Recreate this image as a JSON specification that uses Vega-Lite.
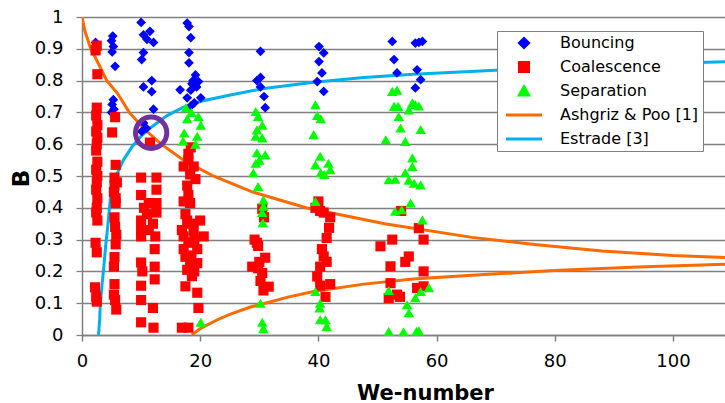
{
"$schema": "https://vega.github.io/schema/vega-lite/v6.json",
"width": 643, "height": 318,
"autosize": {"type": "none"},
"padding": {"left": 82, "top": 17, "right": 0, "bottom": 68},
"background": "white",
"config": {"view": {"stroke": null}, "font": "DejaVu Sans"},
"datasets": {
"points": [
{"series":"Bouncing","We":2.3,"B":0.92},{"series":"Bouncing","We":5.2,"B":0.94},{"series":"Bouncing","We":5.0,"B":0.925},{"series":"Bouncing","We":5.3,"B":0.907},{"series":"Bouncing","We":5.1,"B":0.89},{"series":"Bouncing","We":5.6,"B":0.845},{"series":"Bouncing","We":5.3,"B":0.74},{"series":"Bouncing","We":5.1,"B":0.725},{"series":"Bouncing","We":5.4,"B":0.71},{"series":"Bouncing","We":5.0,"B":0.70},
{"series":"Bouncing","We":10.0,"B":0.983},{"series":"Bouncing","We":10.4,"B":0.944},{"series":"Bouncing","We":11.5,"B":0.955},{"series":"Bouncing","We":12.1,"B":0.92},{"series":"Bouncing","We":11.0,"B":0.93},{"series":"Bouncing","We":10.4,"B":0.888},{"series":"Bouncing","We":10.1,"B":0.866},{"series":"Bouncing","We":11.8,"B":0.80},{"series":"Bouncing","We":10.4,"B":0.78},{"series":"Bouncing","We":11.8,"B":0.765},{"series":"Bouncing","We":12.1,"B":0.71},{"series":"Bouncing","We":10.4,"B":0.667},{"series":"Bouncing","We":10.9,"B":0.65},{"series":"Bouncing","We":10.1,"B":0.64},
{"series":"Bouncing","We":17.8,"B":0.981},{"series":"Bouncing","We":18.1,"B":0.97},{"series":"Bouncing","We":18.4,"B":0.935},{"series":"Bouncing","We":18.1,"B":0.888},{"series":"Bouncing","We":18.1,"B":0.856},{"series":"Bouncing","We":19.2,"B":0.818},{"series":"Bouncing","We":18.8,"B":0.80},{"series":"Bouncing","We":19.7,"B":0.797},{"series":"Bouncing","We":16.6,"B":0.771},{"series":"Bouncing","We":18.4,"B":0.77},{"series":"Bouncing","We":17.8,"B":0.746},{"series":"Bouncing","We":20.1,"B":0.746},{"series":"Bouncing","We":19.0,"B":0.73},{"series":"Bouncing","We":18.4,"B":0.72},{"series":"Bouncing","We":18.6,"B":0.79},{"series":"Bouncing","We":19.4,"B":0.78},
{"series":"Bouncing","We":30.2,"B":0.892},{"series":"Bouncing","We":30.2,"B":0.81},{"series":"Bouncing","We":29.6,"B":0.80},{"series":"Bouncing","We":30.2,"B":0.78},{"series":"Bouncing","We":30.8,"B":0.75},{"series":"Bouncing","We":31.0,"B":0.715},
{"series":"Bouncing","We":40.1,"B":0.907},{"series":"Bouncing","We":40.9,"B":0.887},{"series":"Bouncing","We":40.1,"B":0.86},{"series":"Bouncing","We":40.6,"B":0.824},{"series":"Bouncing","We":39.8,"B":0.797},{"series":"Bouncing","We":40.9,"B":0.766},
{"series":"Bouncing","We":52.5,"B":0.923},{"series":"Bouncing","We":56.4,"B":0.918},{"series":"Bouncing","We":57.6,"B":0.923},{"series":"Bouncing","We":57.0,"B":0.92},{"series":"Bouncing","We":52.8,"B":0.866},{"series":"Bouncing","We":53.3,"B":0.824},{"series":"Bouncing","We":56.7,"B":0.834},{"series":"Bouncing","We":57.3,"B":0.803},{"series":"Bouncing","We":56.4,"B":0.777},
{"series":"Coalescence","We":2.5,"B":0.91},{"series":"Coalescence","We":2.3,"B":0.895},{"series":"Coalescence","We":2.6,"B":0.82},{"series":"Coalescence","We":2.5,"B":0.715},{"series":"Coalescence","We":2.4,"B":0.69},{"series":"Coalescence","We":2.6,"B":0.66},{"series":"Coalescence","We":2.4,"B":0.64},{"series":"Coalescence","We":2.6,"B":0.62},{"series":"Coalescence","We":2.5,"B":0.60},{"series":"Coalescence","We":2.4,"B":0.58},{"series":"Coalescence","We":2.6,"B":0.545},{"series":"Coalescence","We":2.4,"B":0.52},{"series":"Coalescence","We":2.6,"B":0.50},{"series":"Coalescence","We":2.5,"B":0.48},{"series":"Coalescence","We":2.4,"B":0.457},{"series":"Coalescence","We":2.6,"B":0.43},{"series":"Coalescence","We":2.5,"B":0.40},{"series":"Coalescence","We":2.4,"B":0.385},{"series":"Coalescence","We":2.6,"B":0.36},{"series":"Coalescence","We":2.3,"B":0.29},{"series":"Coalescence","We":2.5,"B":0.26},{"series":"Coalescence","We":2.2,"B":0.15},{"series":"Coalescence","We":2.4,"B":0.12},{"series":"Coalescence","We":2.5,"B":0.105},
{"series":"Coalescence","We":5.6,"B":0.685},{"series":"Coalescence","We":5.1,"B":0.637},{"series":"Coalescence","We":5.7,"B":0.535},{"series":"Coalescence","We":5.5,"B":0.495},{"series":"Coalescence","We":5.9,"B":0.48},{"series":"Coalescence","We":5.4,"B":0.45},{"series":"Coalescence","We":5.7,"B":0.43},{"series":"Coalescence","We":5.7,"B":0.415},{"series":"Coalescence","We":5.5,"B":0.37},{"series":"Coalescence","We":5.6,"B":0.34},{"series":"Coalescence","We":5.8,"B":0.315},{"series":"Coalescence","We":5.7,"B":0.285},{"series":"Coalescence","We":5.5,"B":0.245},{"series":"Coalescence","We":5.4,"B":0.215},{"series":"Coalescence","We":5.5,"B":0.16},{"series":"Coalescence","We":5.4,"B":0.127},{"series":"Coalescence","We":5.6,"B":0.11},{"series":"Coalescence","We":5.8,"B":0.08},{"series":"Coalescence","We":5.5,"B":0.47},
{"series":"Coalescence","We":11.5,"B":0.605},{"series":"Coalescence","We":10.0,"B":0.495},{"series":"Coalescence","We":12.6,"B":0.495},{"series":"Coalescence","We":12.6,"B":0.457},{"series":"Coalescence","We":10.0,"B":0.44},{"series":"Coalescence","We":11.3,"B":0.415},{"series":"Coalescence","We":12.6,"B":0.415},{"series":"Coalescence","We":12.6,"B":0.385},{"series":"Coalescence","We":10.5,"B":0.40},{"series":"Coalescence","We":11.0,"B":0.38},{"series":"Coalescence","We":10.0,"B":0.36},{"series":"Coalescence","We":12.0,"B":0.35},{"series":"Coalescence","We":10.0,"B":0.33},{"series":"Coalescence","We":11.3,"B":0.33},{"series":"Coalescence","We":10.0,"B":0.31},{"series":"Coalescence","We":12.4,"B":0.31},{"series":"Coalescence","We":12.3,"B":0.27},{"series":"Coalescence","We":10.0,"B":0.228},{"series":"Coalescence","We":12.3,"B":0.215},{"series":"Coalescence","We":10.2,"B":0.20},{"series":"Coalescence","We":12.3,"B":0.175},{"series":"Coalescence","We":10.0,"B":0.155},{"series":"Coalescence","We":10.0,"B":0.11},{"series":"Coalescence","We":12.0,"B":0.085},{"series":"Coalescence","We":10.0,"B":0.04},{"series":"Coalescence","We":12.1,"B":0.023},
{"series":"Coalescence","We":18.4,"B":0.59},{"series":"Coalescence","We":18.0,"B":0.57},{"series":"Coalescence","We":18.0,"B":0.55},{"series":"Coalescence","We":17.2,"B":0.53},{"series":"Coalescence","We":18.9,"B":0.53},{"series":"Coalescence","We":18.3,"B":0.505},{"series":"Coalescence","We":19.2,"B":0.49},{"series":"Coalescence","We":17.8,"B":0.47},{"series":"Coalescence","We":18.0,"B":0.44},{"series":"Coalescence","We":17.2,"B":0.42},{"series":"Coalescence","We":18.3,"B":0.415},{"series":"Coalescence","We":17.5,"B":0.38},{"series":"Coalescence","We":17.8,"B":0.36},{"series":"Coalescence","We":20.0,"B":0.36},{"series":"Coalescence","We":18.5,"B":0.35},{"series":"Coalescence","We":16.9,"B":0.33},{"series":"Coalescence","We":18.9,"B":0.33},{"series":"Coalescence","We":20.6,"B":0.31},{"series":"Coalescence","We":17.2,"B":0.31},{"series":"Coalescence","We":19.0,"B":0.30},{"series":"Coalescence","We":18.0,"B":0.29},{"series":"Coalescence","We":17.2,"B":0.27},{"series":"Coalescence","We":19.5,"B":0.27},{"series":"Coalescence","We":18.5,"B":0.25},{"series":"Coalescence","We":17.5,"B":0.246},{"series":"Coalescence","We":18.3,"B":0.226},{"series":"Coalescence","We":19.5,"B":0.226},{"series":"Coalescence","We":17.8,"B":0.205},{"series":"Coalescence","We":19.0,"B":0.20},{"series":"Coalescence","We":18.6,"B":0.185},{"series":"Coalescence","We":17.5,"B":0.153},{"series":"Coalescence","We":19.5,"B":0.133},{"series":"Coalescence","We":19.7,"B":0.085},{"series":"Coalescence","We":16.9,"B":0.023},{"series":"Coalescence","We":18.0,"B":0.023},
{"series":"Coalescence","We":30.8,"B":0.37},{"series":"Coalescence","We":30.5,"B":0.397},{"series":"Coalescence","We":29.6,"B":0.29},{"series":"Coalescence","We":29.8,"B":0.28},{"series":"Coalescence","We":29.2,"B":0.30},{"series":"Coalescence","We":31.0,"B":0.243},{"series":"Coalescence","We":30.0,"B":0.23},{"series":"Coalescence","We":28.8,"B":0.215},{"series":"Coalescence","We":29.8,"B":0.21},{"series":"Coalescence","We":30.5,"B":0.195},{"series":"Coalescence","We":30.2,"B":0.17},{"series":"Coalescence","We":31.6,"B":0.152},{"series":"Coalescence","We":30.7,"B":0.14},
{"series":"Coalescence","We":40.0,"B":0.42},{"series":"Coalescence","We":39.5,"B":0.40},{"series":"Coalescence","We":40.3,"B":0.39},{"series":"Coalescence","We":40.9,"B":0.385},{"series":"Coalescence","We":42.0,"B":0.37},{"series":"Coalescence","We":41.8,"B":0.337},{"series":"Coalescence","We":41.4,"B":0.305},{"series":"Coalescence","We":40.6,"B":0.27},{"series":"Coalescence","We":40.9,"B":0.247},{"series":"Coalescence","We":41.4,"B":0.23},{"series":"Coalescence","We":40.3,"B":0.215},{"series":"Coalescence","We":39.8,"B":0.184},{"series":"Coalescence","We":42.0,"B":0.16},{"series":"Coalescence","We":40.3,"B":0.155},{"series":"Coalescence","We":41.2,"B":0.12},
{"series":"Coalescence","We":57.0,"B":0.336},{"series":"Coalescence","We":50.5,"B":0.279},{"series":"Coalescence","We":52.5,"B":0.30},{"series":"Coalescence","We":57.8,"B":0.30},{"series":"Coalescence","We":55.3,"B":0.247},{"series":"Coalescence","We":54.7,"B":0.23},{"series":"Coalescence","We":52.2,"B":0.216},{"series":"Coalescence","We":57.8,"B":0.20},{"series":"Coalescence","We":52.2,"B":0.163},{"series":"Coalescence","We":56.7,"B":0.148},{"series":"Coalescence","We":57.8,"B":0.153},{"series":"Coalescence","We":51.9,"B":0.116},{"series":"Coalescence","We":53.3,"B":0.127},{"series":"Coalescence","We":53.8,"B":0.12},{"series":"Coalescence","We":54.0,"B":0.39},
{"series":"Separation","We":17.6,"B":0.715},{"series":"Separation","We":18.5,"B":0.70},{"series":"Separation","We":19.7,"B":0.687},{"series":"Separation","We":17.8,"B":0.68},{"series":"Separation","We":20.1,"B":0.66},{"series":"Separation","We":17.3,"B":0.635},{"series":"Separation","We":19.5,"B":0.625},{"series":"Separation","We":17.1,"B":0.61},{"series":"Separation","We":19.2,"B":0.60},{"series":"Separation","We":20.1,"B":0.04},
{"series":"Separation","We":29.4,"B":0.703},{"series":"Separation","We":29.8,"B":0.687},{"series":"Separation","We":30.5,"B":0.66},{"series":"Separation","We":29.6,"B":0.645},{"series":"Separation","We":30.5,"B":0.62},{"series":"Separation","We":29.4,"B":0.625},{"series":"Separation","We":29.6,"B":0.573},{"series":"Separation","We":31.0,"B":0.567},{"series":"Separation","We":30.0,"B":0.55},{"series":"Separation","We":29.4,"B":0.54},{"series":"Separation","We":29.0,"B":0.51},{"series":"Separation","We":29.8,"B":0.467},{"series":"Separation","We":30.7,"B":0.425},{"series":"Separation","We":30.7,"B":0.405},{"series":"Separation","We":30.5,"B":0.385},{"series":"Separation","We":30.6,"B":0.353},{"series":"Separation","We":30.2,"B":0.10},{"series":"Separation","We":30.5,"B":0.04},{"series":"Separation","We":30.7,"B":0.02},
{"series":"Separation","We":39.5,"B":0.724},{"series":"Separation","We":39.8,"B":0.69},{"series":"Separation","We":40.4,"B":0.68},{"series":"Separation","We":39.2,"B":0.63},{"series":"Separation","We":40.3,"B":0.562},{"series":"Separation","We":39.5,"B":0.535},{"series":"Separation","We":41.7,"B":0.54},{"series":"Separation","We":40.4,"B":0.51},{"series":"Separation","We":42.0,"B":0.52},{"series":"Separation","We":41.0,"B":0.505},{"series":"Separation","We":39.5,"B":0.42},{"series":"Separation","We":39.5,"B":0.137},{"series":"Separation","We":40.3,"B":0.10},{"series":"Separation","We":40.2,"B":0.085},{"series":"Separation","We":40.3,"B":0.048},{"series":"Separation","We":41.2,"B":0.048},{"series":"Separation","We":41.4,"B":0.027},
{"series":"Separation","We":52.5,"B":0.766},{"series":"Separation","We":53.3,"B":0.77},{"series":"Separation","We":52.8,"B":0.719},{"series":"Separation","We":53.5,"B":0.719},{"series":"Separation","We":53.6,"B":0.687},{"series":"Separation","We":55.3,"B":0.708},{"series":"Separation","We":55.9,"B":0.73},{"series":"Separation","We":56.4,"B":0.725},{"series":"Separation","We":57.0,"B":0.72},{"series":"Separation","We":53.9,"B":0.651},{"series":"Separation","We":57.3,"B":0.646},{"series":"Separation","We":51.4,"B":0.614},{"series":"Separation","We":54.7,"B":0.609},{"series":"Separation","We":55.9,"B":0.557},{"series":"Separation","We":55.9,"B":0.53},{"series":"Separation","We":51.9,"B":0.488},{"series":"Separation","We":53.0,"B":0.49},{"series":"Separation","We":54.7,"B":0.51},{"series":"Separation","We":55.3,"B":0.487},{"series":"Separation","We":56.2,"B":0.477},{"series":"Separation","We":57.3,"B":0.472},{"series":"Separation","We":55.6,"B":0.415},{"series":"Separation","We":53.0,"B":0.389},{"series":"Separation","We":54.1,"B":0.394},{"series":"Separation","We":57.6,"B":0.362},{"series":"Separation","We":51.9,"B":0.14},{"series":"Separation","We":55.0,"B":0.095},{"series":"Separation","We":55.3,"B":0.07},{"series":"Separation","We":56.4,"B":0.117},{"series":"Separation","We":57.3,"B":0.137},{"series":"Separation","We":58.7,"B":0.149},{"series":"Separation","We":51.9,"B":0.011},{"series":"Separation","We":54.4,"B":0.01},{"series":"Separation","We":56.6,"B":0.012},{"series":"Separation","We":57.0,"B":0.013}
],
"curves": [
{"series":"Ashgriz & Poo [1]","branch":"upper","We":0,"B":1.0},{"series":"Ashgriz & Poo [1]","branch":"upper","We":0.5,"B":0.955},{"series":"Ashgriz & Poo [1]","branch":"upper","We":1.5,"B":0.9},{"series":"Ashgriz & Poo [1]","branch":"upper","We":2.6,"B":0.86},{"series":"Ashgriz & Poo [1]","branch":"upper","We":4.2,"B":0.8},{"series":"Ashgriz & Poo [1]","branch":"upper","We":6.0,"B":0.76},{"series":"Ashgriz & Poo [1]","branch":"upper","We":8.0,"B":0.7},{"series":"Ashgriz & Poo [1]","branch":"upper","We":10.4,"B":0.65},{"series":"Ashgriz & Poo [1]","branch":"upper","We":13.4,"B":0.6},{"series":"Ashgriz & Poo [1]","branch":"upper","We":17.2,"B":0.55},{"series":"Ashgriz & Poo [1]","branch":"upper","We":22.2,"B":0.5},{"series":"Ashgriz & Poo [1]","branch":"upper","We":28.8,"B":0.45},{"series":"Ashgriz & Poo [1]","branch":"upper","We":37.9,"B":0.4},{"series":"Ashgriz & Poo [1]","branch":"upper","We":51.2,"B":0.35},{"series":"Ashgriz & Poo [1]","branch":"upper","We":66,"B":0.307},{"series":"Ashgriz & Poo [1]","branch":"upper","We":77,"B":0.284},{"series":"Ashgriz & Poo [1]","branch":"upper","We":88,"B":0.264},{"series":"Ashgriz & Poo [1]","branch":"upper","We":100,"B":0.25},{"series":"Ashgriz & Poo [1]","branch":"upper","We":112,"B":0.241},
{"series":"Ashgriz & Poo [1]","branch":"lower","We":18.6,"B":0},{"series":"Ashgriz & Poo [1]","branch":"lower","We":20,"B":0.02},{"series":"Ashgriz & Poo [1]","branch":"lower","We":22.9,"B":0.048},{"series":"Ashgriz & Poo [1]","branch":"lower","We":25,"B":0.065},{"series":"Ashgriz & Poo [1]","branch":"lower","We":28.5,"B":0.088},{"series":"Ashgriz & Poo [1]","branch":"lower","We":31,"B":0.10},{"series":"Ashgriz & Poo [1]","branch":"lower","We":35,"B":0.12},{"series":"Ashgriz & Poo [1]","branch":"lower","We":39.2,"B":0.137},{"series":"Ashgriz & Poo [1]","branch":"lower","We":47.7,"B":0.16},{"series":"Ashgriz & Poo [1]","branch":"lower","We":56,"B":0.176},{"series":"Ashgriz & Poo [1]","branch":"lower","We":66,"B":0.188},{"series":"Ashgriz & Poo [1]","branch":"lower","We":80,"B":0.203},{"series":"Ashgriz & Poo [1]","branch":"lower","We":94,"B":0.214},{"series":"Ashgriz & Poo [1]","branch":"lower","We":112,"B":0.224},
{"series":"Estrade [3]","branch":"e","We":2.8,"B":0},{"series":"Estrade [3]","branch":"e","We":3.0,"B":0.05},{"series":"Estrade [3]","branch":"e","We":3.1,"B":0.10},{"series":"Estrade [3]","branch":"e","We":3.4,"B":0.16},{"series":"Estrade [3]","branch":"e","We":3.7,"B":0.216},{"series":"Estrade [3]","branch":"e","We":4.0,"B":0.28},{"series":"Estrade [3]","branch":"e","We":4.3,"B":0.331},{"series":"Estrade [3]","branch":"e","We":4.8,"B":0.43},{"series":"Estrade [3]","branch":"e","We":5.3,"B":0.47},{"series":"Estrade [3]","branch":"e","We":6.0,"B":0.51},{"series":"Estrade [3]","branch":"e","We":7.0,"B":0.55},{"series":"Estrade [3]","branch":"e","We":8.5,"B":0.593},{"series":"Estrade [3]","branch":"e","We":10.0,"B":0.625},{"series":"Estrade [3]","branch":"e","We":11.6,"B":0.652},{"series":"Estrade [3]","branch":"e","We":14.4,"B":0.69},{"series":"Estrade [3]","branch":"e","We":17.0,"B":0.715},{"series":"Estrade [3]","branch":"e","We":20.1,"B":0.735},{"series":"Estrade [3]","branch":"e","We":25.1,"B":0.755},{"series":"Estrade [3]","branch":"e","We":30.8,"B":0.775},{"series":"Estrade [3]","branch":"e","We":39.2,"B":0.795},{"series":"Estrade [3]","branch":"e","We":47.7,"B":0.81},{"series":"Estrade [3]","branch":"e","We":56.1,"B":0.82},{"series":"Estrade [3]","branch":"e","We":67.4,"B":0.83},{"series":"Estrade [3]","branch":"e","We":80,"B":0.842},{"series":"Estrade [3]","branch":"e","We":95,"B":0.852},{"series":"Estrade [3]","branch":"e","We":112,"B":0.861}
],
"marker": [{"We": 11.7, "B": 0.636}]
},
"encoding": {
"x": {"field": "We", "type": "quantitative", "scale": {"domain": [0, 108.8], "nice": false, "zero": false},
  "axis": {"title": "We-number", "values": [0,20,40,60,80,100], "grid": false, "domainColor": "#808080", "domainWidth": 1.5, "tickColor": "#808080", "tickWidth": 1.5, "tickSize": 6, "labelFontSize": 18, "labelColor": "#000000", "labelPadding": 11, "labelFlush": false, "labelOverlap": false,
  "titleFontSize": 21, "titleFontWeight": "bold", "titleColor": "#000000", "titleX": 343, "titleY": 64, "titleAlign": "center", "titleBaseline": "alphabetic"}},
"y": {"field": "B", "type": "quantitative", "scale": {"domain": [0, 1], "nice": false},
  "axis": {"title": "B", "values": [0,0.1,0.2,0.3,0.4,0.5,0.6,0.7,0.8,0.9,1], "format": ".1~f", "grid": true, "gridColor": "#808080", "gridWidth": 1.3, "domainColor": "#808080", "domainWidth": 1.5, "tickColor": "#808080", "tickWidth": 1.3, "tickSize": 6, "labelFontSize": 18, "labelColor": "#000000", "labelPadding": 13, "labelFlush": false, "labelOverlap": false,
  "titleFontSize": 23, "titleFontWeight": "bold", "titleColor": "#000000", "titleAngle": 270, "titleX": -54, "titleY": 161, "titleAlign": "center", "titleBaseline": "alphabetic"}}
},
"layer": [
{"data": {"name": "curves"}, "mark": {"type": "line", "strokeWidth": 3, "clip": true},
 "encoding": {
  "color": {"field": "series", "type": "nominal", "scale": {"domain": ["Bouncing","Coalescence","Separation","Ashgriz & Poo [1]","Estrade [3]"], "range": ["#0000FF","#FF0000","#00FF00","#FF6A00","#00B0F0"]},
   "legend": {"title": null, "orient": "none", "legendX": 415, "legendY": 14, "strokeColor": "#808080", "fillColor": "#FFFFFF", "padding": 4, "labelFontSize": 16, "labelColor": "#000000", "symbolSize": 81, "symbolStrokeWidth": 3, "symbolOffset": 15, "labelOffset": 28, "rowPadding": 8, "clipHeight": 16, "labelLimit": 300,
    "encode": {"symbols": {"update": {
     "shape": {"signal": "datum.value === 'Bouncing' ? 'diamond' : datum.value === 'Coalescence' ? 'square' : datum.value === 'Separation' ? 'triangle-up' : 'M-4,0L4,0'"},
     "fill": {"signal": "(datum.value === 'Bouncing' || datum.value === 'Coalescence' || datum.value === 'Separation') ? scale('color', datum.value) : 'transparent'"},
     "stroke": {"signal": "(datum.value === 'Bouncing' || datum.value === 'Coalescence' || datum.value === 'Separation') ? 'transparent' : scale('color', datum.value)"},
     "strokeWidth": {"value": 3},
     "size": {"value": 81},
     "opacity": {"value": 1}
    }}}}},
  "detail": {"field": "branch", "type": "nominal"}
 }},
{"data": {"name": "points"}, "mark": {"type": "point", "filled": true, "opacity": 1},
 "encoding": {
  "color": {"field": "series", "type": "nominal", "scale": {"domain": ["Bouncing","Coalescence","Separation","Ashgriz & Poo [1]","Estrade [3]"], "range": ["#0000FF","#FF0000","#00FF00","#FF6A00","#00B0F0"]}},
  "shape": {"field": "series", "type": "nominal", "scale": {"domain": ["Bouncing","Coalescence","Separation"], "range": ["diamond","square","triangle-up"]}, "legend": null},
  "size": {"field": "series", "type": "nominal", "scale": {"domain": ["Bouncing","Coalescence","Separation"], "range": [95, 110, 115]}, "legend": null}
 }},
{"data": {"name": "marker"}, "mark": {"type": "point", "shape": "circle", "filled": false, "size": 980, "strokeWidth": 5, "color": "#7030A0", "opacity": 1}}
]
}
